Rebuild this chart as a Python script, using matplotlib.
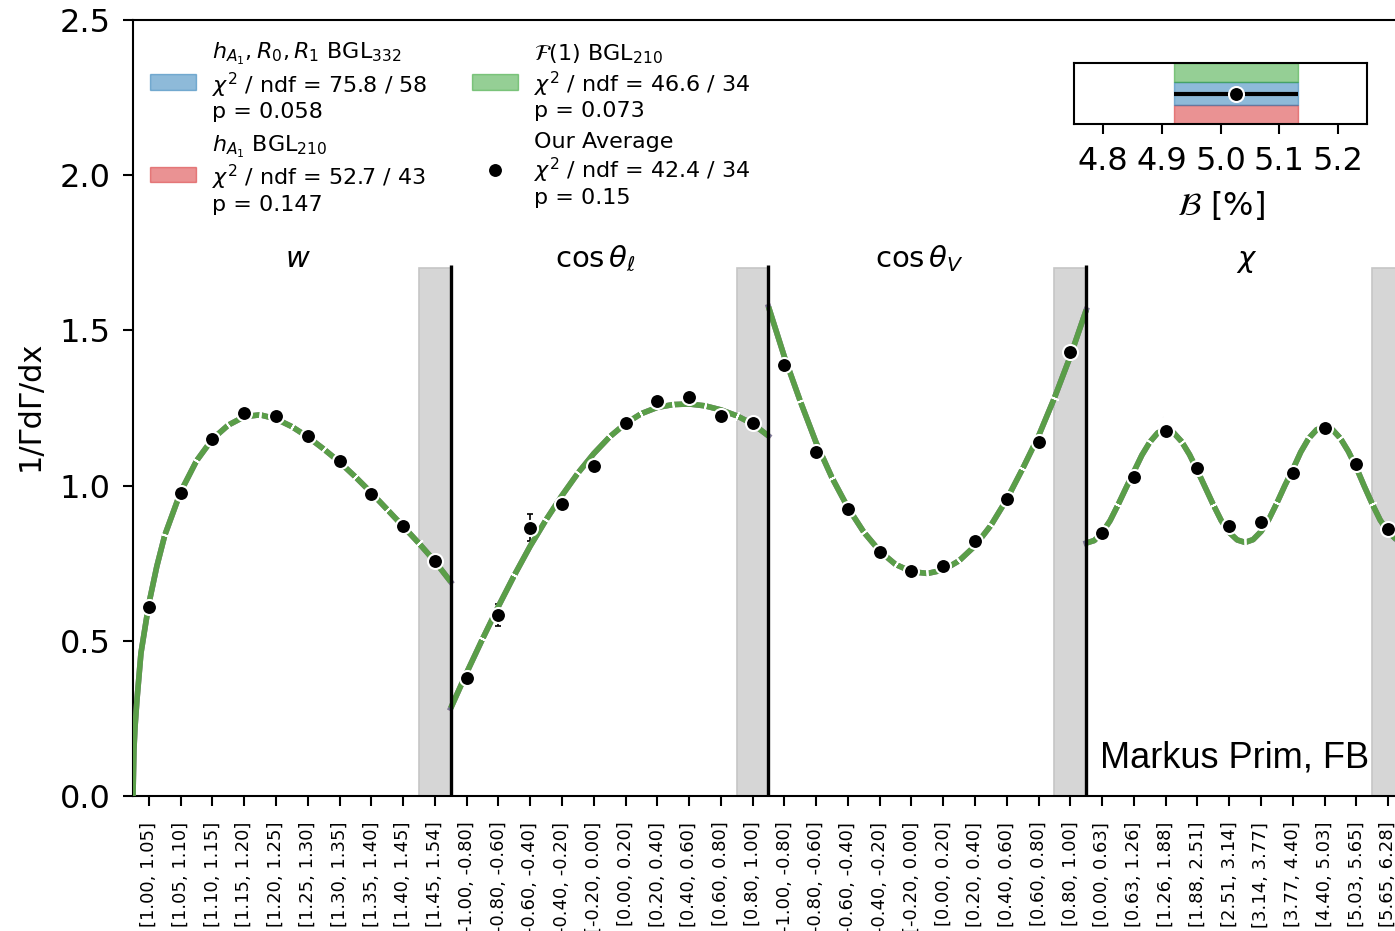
import numpy as np
import matplotlib.pyplot as plt
from matplotlib.patches import Patch
from matplotlib.lines import Line2D

# bin edges of the four projections
w_edges = [1.00, 1.05, 1.10, 1.15, 1.20, 1.25, 1.30, 1.35, 1.40, 1.45, 1.54]
cosl_edges = [-1.00, -0.80, -0.60, -0.40, -0.20, 0.00, 0.20, 0.40, 0.60, 0.80, 1.00]
cosv_edges = [-1.00, -0.80, -0.60, -0.40, -0.20, 0.00, 0.20, 0.40, 0.60, 0.80, 1.00]
chi_edges = [0.00, 0.63, 1.26, 1.88, 2.51, 3.14, 3.77, 4.40, 5.03, 5.65, 6.28]

# averaged normalised spectra 1/Gamma dGamma/dx
avg_w = [0.608, 0.976, 1.149, 1.233, 1.224, 1.161, 1.079, 0.974, 0.870, 0.758]
avg_cosl = [0.379, 0.583, 0.865, 0.941, 1.063, 1.203, 1.274, 1.287, 1.224, 1.201]
avg_cosv = [1.389, 1.107, 0.925, 0.786, 0.724, 0.741, 0.822, 0.956, 1.139, 1.429]
avg_chi = [0.848, 1.029, 1.177, 1.056, 0.870, 0.884, 1.040, 1.187, 1.070, 0.859]
err_w = [0.010, 0.010, 0.010, 0.010, 0.010, 0.010, 0.010, 0.010, 0.010, 0.012]
err_cosl = [0.012, 0.036, 0.042, 0.012, 0.010, 0.010, 0.010, 0.010, 0.010, 0.012]
err_cosv = [0.012, 0.010, 0.010, 0.010, 0.010, 0.010, 0.010, 0.010, 0.010, 0.012]
err_chi = [0.010, 0.010, 0.010, 0.010, 0.010, 0.010, 0.010, 0.010, 0.010, 0.010]

# fit predictions, sampled in units of bins inside each projection
w_fit_pos = [0.0, 0.03, 0.0625, 0.125, 0.25, 0.5, 0.75, 1.0, 1.5, 2.0, 2.5, 3.0, 3.5,
             4.0, 4.5, 5.0, 5.5, 6.0, 6.5, 7.0, 7.5, 8.0, 8.5, 9.0, 9.5, 10.0]
w_fit = [0.0, 0.15, 0.22, 0.31, 0.46, 0.62, 0.74, 0.84, 0.98, 1.08, 1.15, 1.195, 1.222,
         1.228, 1.215, 1.19, 1.157, 1.118, 1.076, 1.028, 0.977, 0.923, 0.869, 0.814, 0.756, 0.69]
half_pos = [0.0, 0.5, 1.0, 1.5, 2.0, 2.5, 3.0, 3.5, 4.0, 4.5, 5.0,
            5.5, 6.0, 6.5, 7.0, 7.5, 8.0, 8.5, 9.0, 9.5, 10.0]
cosl_fit = [0.283, 0.397, 0.506, 0.611, 0.711, 0.805, 0.890, 0.968, 1.040, 1.103, 1.157,
            1.200, 1.232, 1.252, 1.261, 1.263, 1.257, 1.244, 1.225, 1.199, 1.160]
cosv_fit = [1.576, 1.415, 1.272, 1.138, 1.025, 0.929, 0.850, 0.789, 0.746, 0.723, 0.717,
            0.728, 0.758, 0.806, 0.872, 0.956, 1.055, 1.160, 1.283, 1.417, 1.566]
chi_fit_pos = [0.0, 0.25, 0.5, 0.75, 1.0, 1.25, 1.5, 1.75, 2.0, 2.25, 2.5, 2.75, 3.0, 3.25,
               3.5, 3.75, 4.0, 4.25, 4.5, 4.75, 5.0, 5.25, 5.5, 5.75, 6.0, 6.25, 6.5, 6.75,
               7.0, 7.25, 7.5, 7.75, 8.0, 8.25, 8.5, 8.75, 9.0, 9.25, 9.5, 9.75, 10.0]
chi_fit = [0.815, 0.823, 0.848, 0.887, 0.938, 0.992, 1.045, 1.098, 1.140, 1.170, 1.181,
           1.170, 1.142, 1.100, 1.048, 0.993, 0.938, 0.887, 0.849, 0.825, 0.817, 0.826,
           0.852, 0.892, 0.944, 1.000, 1.052, 1.108, 1.152, 1.180, 1.189, 1.180, 1.152,
           1.110, 1.058, 0.998, 0.941, 0.889, 0.851, 0.827, 0.819]

# branching fraction in percent
bf_value = 5.027
bf_error = 0.106

labels_fit = [r'$h_{A_1}, R_0, R_1$ BGL$_{332}$' + '\n' + r'$\chi^2$ / ndf = 75.8 / 58' + '\np = 0.058',
              r'$h_{A_1}$ BGL$_{210}$' + '\n' + r'$\chi^2$ / ndf = 52.7 / 43' + '\np = 0.147',
              r'$\mathcal{F}(1)$ BGL$_{210}$' + '\n' + r'$\chi^2$ / ndf = 46.6 / 34' + '\np = 0.073',
              'Our Average\n' + r'$\chi^2$ / ndf = 42.4 / 34' + '\np = 0.15']
titles = [r'$w$', r'$\cos\theta_\ell$', r'$\cos\theta_V$', r'$\chi$']
title_pos = [5.2, 14.55, 24.75, 35.05]

projections = [(w_edges, avg_w, err_w, w_fit_pos, w_fit),
               (cosl_edges, avg_cosl, err_cosl, half_pos, cosl_fit),
               (cosv_edges, avg_cosv, err_cosv, half_pos, cosv_fit),
               (chi_edges, avg_chi, err_chi, chi_fit_pos, chi_fit)]

green = '#5a9e48'

fig = plt.figure(figsize=(13.95, 9.31), dpi=100)
ax = fig.add_axes([133 / 1395, 1 - 796 / 931, (1404 - 133) / 1395, (796 - 20) / 931])
ax.set_xlim(0, 40)
ax.set_ylim(0, 2.5)

ticklabels = []
for k, (edges, avg, err, fpos, fval) in enumerate(projections):
    off = 10 * k
    ticklabels += ['[{:.2f}, {:.2f}]'.format(a, b) for a, b in zip(edges[:-1], edges[1:])]
    xc = np.arange(10) + 0.5 + off
    # overflow bin and separator
    ax.axvspan(off + 9, off + 10, ymin=0, ymax=1.7 / 2.5, facecolor='#d6d6d6',
               edgecolor='#c6c6c6', lw=1.2, zorder=0)
    if k > 0:
        ax.vlines(off, 0, 1.71, color='k', lw=2.4, zorder=6)
    ax.errorbar(xc, avg, yerr=err, fmt='none', ecolor='k', elinewidth=1.2,
                capsize=2.5, capthick=1.2, zorder=2)
    fx = np.array(fpos) + off
    ax.plot(fx, fval, color='tab:red', alpha=0.5, lw=4, zorder=3)
    ax.plot(fx, fval, color='tab:blue', alpha=0.5, lw=4, zorder=3)
    ax.plot(fx, fval, color=green, lw=4, solid_capstyle='butt', zorder=3)
    # small white cuts across the prediction at the inner bin edges
    pts = ax.transData.transform(np.column_stack([fx, fval]))
    for b in range(1, 10):
        i = fpos.index(float(b))
        d = pts[i + 1] - pts[i - 1]
        ang = np.degrees(np.arctan2(d[1], d[0]))
        ax.plot(off + b, fval[i], marker=(2, 2, ang), ms=6.5, mec='white',
                mew=1.3, ls='none', zorder=4)
    ax.plot(xc, avg, 'o', color='k', ms=10.8, mec='white', mew=1.5, zorder=5)
    ax.text(title_pos[k], 1.705, titles[k], ha='center', va='baseline', fontsize=21)

ax.set_xticks(np.arange(40) + 0.5)
ax.set_xticklabels(ticklabels, rotation=90, fontsize=13)
ax.set_yticks([0.0, 0.5, 1.0, 1.5, 2.0, 2.5])
ax.set_yticklabels(['0.0', '0.5', '1.0', '1.5', '2.0', '2.5'], fontsize=23)
ax.tick_params(axis='both', length=7.5, width=1.5)
ax.tick_params(axis='x', pad=11)
ax.tick_params(axis='y', pad=8.5)
for s in ax.spines.values():
    s.set_linewidth(1.5)
fig.text(30 / 1395, 1 - 406 / 931, '1/ΓdΓ/dx', fontsize=22, rotation=90,
         ha='center', va='center')

handles = [Patch(facecolor='tab:blue', edgecolor='tab:blue', alpha=0.5),
           Patch(facecolor='tab:red', edgecolor='tab:red', alpha=0.5),
           Patch(facecolor='tab:green', edgecolor='tab:green', alpha=0.5),
           Line2D([], [], marker='o', color='k', ms=10.8, mec='white', mew=1.5, ls='none')]
leg = ax.legend(handles, labels_fit, loc='upper left', ncol=2, frameon=False, fontsize=16,
                handlelength=2.1, handletextpad=0.7, columnspacing=2.0, labelspacing=0.5,
                borderaxespad=0.4, bbox_to_anchor=(-0.001, 0.996))
for t in leg.get_texts():
    t.set_linespacing(1.16)

fig.text(1100 / 1395, 1 - 768 / 931, 'Markus Prim, FB', fontsize=26,
         family='Liberation Sans', va='baseline')

# branching fraction inset
iax = fig.add_axes([1074 / 1395, 1 - 124 / 931, 293 / 1395, 61 / 931])
iax.set_xlim(4.75, 5.25)
iax.set_ylim(0, 1)
lo, hi = bf_value - bf_error, bf_value + bf_error
iax.axvspan(lo, hi, ymin=0.0, ymax=0.305, facecolor='tab:red', edgecolor='tab:red', alpha=0.5)
iax.axvspan(lo, hi, ymin=0.305, ymax=0.69, facecolor='tab:blue', edgecolor='tab:blue', alpha=0.5)
iax.axvspan(lo, hi, ymin=0.69, ymax=1.0, facecolor='tab:green', edgecolor='tab:green', alpha=0.5)
iax.errorbar([bf_value], [0.5], xerr=[bf_error], fmt='o', color='k', ms=10.8,
             mec='white', mew=1.5, elinewidth=3, capsize=0)
iax.set_yticks([])
iax.set_xticks([4.8, 4.9, 5.0, 5.1, 5.2])
iax.set_xticklabels(['4.8', '4.9', '5.0', '5.1', '5.2'], fontsize=23)
iax.tick_params(axis='x', length=7.5, width=1.5, pad=8)
for s in iax.spines.values():
    s.set_linewidth(1.5)
iax.set_xlabel(r'$\mathcal{B}$ [%]', fontsize=23, labelpad=9)

fig.savefig('out.png', dpi=100)
